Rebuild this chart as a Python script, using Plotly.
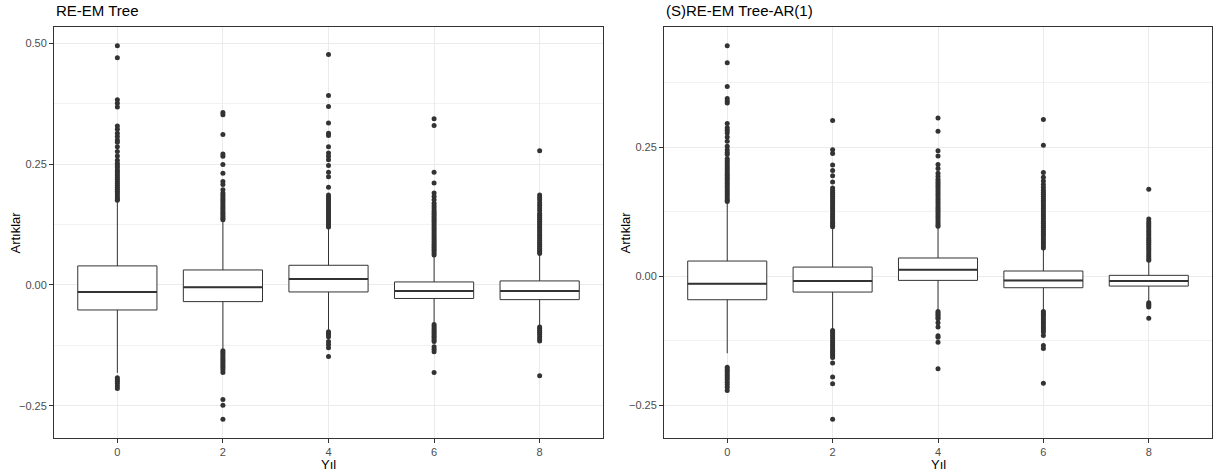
import plotly.graph_objects as go

# ---------------- data ----------------
years = ["0", "2", "4", "6", "8"]

# Panel 1: RE-EM Tree
p1_q1 = [-0.0518, -0.0345, -0.0145, -0.0280, -0.0304]
p1_med = [-0.0145, -0.0050, 0.0124, -0.0124, -0.0124]
p1_q3 = [0.0394, 0.0310, 0.0407, 0.0062, 0.0083]
p1_low = [-0.182, -0.132, -0.093, -0.079, -0.084]
p1_up = [0.1725, 0.131, 0.117, 0.058, 0.062]
p1_out = [
    [0.495, 0.470, 0.383, 0.376, 0.368, 0.329, 0.322, 0.314, 0.307, 0.300, 0.295, 0.286,
     0.276, 0.267, 0.258, 0.252, 0.247, 0.243, 0.238, 0.234, 0.230, 0.226, 0.222, 0.218,
     0.214, 0.210, 0.206, 0.202, 0.198, 0.194, 0.190, 0.186, 0.182, 0.178, 0.175,
     -0.192, -0.196, -0.200, -0.204, -0.209, -0.214],
    [0.357, 0.352, 0.311, 0.271, 0.266, 0.249, 0.231, 0.214, 0.208, 0.197, 0.190, 0.186,
     0.182, 0.178, 0.174, 0.170, 0.166, 0.162, 0.158, 0.154, 0.150, 0.146, 0.142, 0.138,
     0.135,
     -0.136, -0.140, -0.144, -0.148, -0.152, -0.156, -0.160, -0.164, -0.168, -0.172,
     -0.176, -0.181, -0.237, -0.249, -0.278],
    [0.477, 0.392, 0.369, 0.335, 0.314, 0.309, 0.286, 0.273, 0.266, 0.259, 0.247, 0.233,
     0.224, 0.202, 0.186, 0.182, 0.178, 0.174, 0.170, 0.166, 0.162, 0.158, 0.154, 0.150,
     0.146, 0.142, 0.138, 0.134, 0.130, 0.126, 0.122, 0.120,
     -0.097, -0.100, -0.103, -0.107, -0.117, -0.123, -0.130, -0.148],
    [0.344, 0.330, 0.233, 0.211, 0.190, 0.183, 0.176, 0.169, 0.164, 0.159, 0.154, 0.150,
     0.146, 0.142, 0.138, 0.134, 0.130, 0.126, 0.122, 0.118, 0.114, 0.110, 0.106, 0.102,
     0.098, 0.094, 0.090, 0.086, 0.082, 0.078, 0.074, 0.070, 0.066, 0.062,
     -0.082, -0.086, -0.090, -0.094, -0.098, -0.102, -0.106, -0.110, -0.114, -0.117,
     -0.128, -0.133, -0.138, -0.181],
    [0.2775, 0.186, 0.181, 0.176, 0.170, 0.165, 0.159, 0.154, 0.148, 0.144, 0.140, 0.136,
     0.132, 0.128, 0.124, 0.120, 0.116, 0.112, 0.108, 0.104, 0.100, 0.096, 0.092, 0.088,
     0.084, 0.080, 0.076, 0.072, 0.068, 0.065,
     -0.087, -0.090, -0.094, -0.098, -0.102, -0.107, -0.112, -0.116, -0.188],
]

# Panel 2: (S)RE-EM Tree-AR(1)
p2_q1 = [-0.0453, -0.0304, -0.0078, -0.0220, -0.0188]
p2_med = [-0.0142, -0.0090, 0.0130, -0.0078, -0.0090]
p2_q3 = [0.0297, 0.0180, 0.0356, 0.0104, 0.0020]
p2_low = [-0.149, -0.1035, -0.066, -0.066, -0.048]
p2_up = [0.141, 0.0936, 0.095, 0.052, 0.0297]
p2_out = [
    [0.447, 0.414, 0.368, 0.3445, 0.340, 0.336, 0.296, 0.288, 0.283, 0.278, 0.270, 0.262,
     0.252, 0.2455, 0.240, 0.236, 0.228, 0.224, 0.220, 0.216, 0.212, 0.208, 0.204, 0.200,
     0.196, 0.192, 0.188, 0.184, 0.180, 0.176, 0.172, 0.168, 0.164, 0.160, 0.156, 0.152,
     0.148, 0.145,
     -0.176, -0.180, -0.184, -0.188, -0.192, -0.196, -0.200, -0.205, -0.210, -0.215, -0.221],
    [0.302, 0.2455, 0.238, 0.216, 0.205, 0.195, 0.183, 0.171, 0.167, 0.163, 0.159, 0.155,
     0.151, 0.147, 0.143, 0.139, 0.135, 0.131, 0.127, 0.123, 0.119, 0.115, 0.111, 0.107,
     0.103, 0.099, 0.096,
     -0.105, -0.109, -0.113, -0.117, -0.121, -0.125, -0.129, -0.133, -0.137, -0.141,
     -0.145, -0.149, -0.153, -0.157, -0.168, -0.195, -0.208, -0.277],
    [0.307, 0.281, 0.2436, 0.233, 0.217, 0.209, 0.200, 0.194, 0.188, 0.184, 0.180, 0.176,
     0.172, 0.168, 0.164, 0.160, 0.156, 0.152, 0.148, 0.144, 0.140, 0.136, 0.132, 0.128,
     0.124, 0.120, 0.116, 0.112, 0.108, 0.104, 0.100, 0.097,
     -0.068, -0.071, -0.074, -0.077, -0.080, -0.082, -0.090, -0.098, -0.115, -0.118,
     -0.1275, -0.179],
    [0.304, 0.254, 0.2015, 0.192, 0.185, 0.178, 0.172, 0.167, 0.163, 0.159, 0.155, 0.151,
     0.147, 0.143, 0.139, 0.135, 0.131, 0.127, 0.123, 0.119, 0.115, 0.111, 0.107, 0.103,
     0.099, 0.095, 0.091, 0.087, 0.083, 0.079, 0.075, 0.071, 0.067, 0.063, 0.059, 0.055,
     -0.068, -0.072, -0.076, -0.080, -0.084, -0.088, -0.092, -0.096, -0.100, -0.104,
     -0.108, -0.1145, -0.134, -0.140, -0.207],
    [0.169, 0.111, 0.106, 0.102, 0.098, 0.094, 0.090, 0.086, 0.082, 0.078, 0.074, 0.070,
     0.066, 0.062, 0.058, 0.054, 0.050, 0.046, 0.042, 0.038, 0.034, 0.031,
     -0.051, -0.054, -0.057, -0.0596, -0.081],
]

titles = ["RE-EM Tree", "(S)RE-EM Tree-AR(1)"]
x_title = "Yıl"
y_title = "Artıklar"

# ---------------- styling ----------------
W, H = 1218, 475
DARK = "#333333"
GRID = "#EBEBEB"
TICKC = "#4D4D4D"
FONT = "Liberation Sans, Arial, sans-serif"
BOXW = 0.75

panels = [
    dict(q1=p1_q1, med=p1_med, q3=p1_q3, low=p1_low, up=p1_up, out=p1_out,
         dom=[54 / W, 603 / W]),
    dict(q1=p2_q1, med=p2_med, q3=p2_q3, low=p2_low, up=p2_up, out=p2_out,
         dom=[664 / W, 1212 / W]),
]
ydom = [1 - 438 / H, 1 - 27 / H]

fig = go.Figure()
layout = dict(
    width=W, height=H, margin=dict(l=0, r=0, t=0, b=0),
    paper_bgcolor="white", plot_bgcolor="white", showlegend=False,
    font=dict(family=FONT, color=TICKC, size=11),
)
annotations = []
idx = list(range(len(years)))

for k, p in enumerate(panels):
    xa = "x" if k == 0 else "x2"
    ya = "y" if k == 0 else "y2"
    fig.add_trace(go.Box(
        x=idx, q1=p["q1"], median=p["med"], q3=p["q3"],
        lowerfence=p["low"], upperfence=p["up"],
        width=BOXW, whiskerwidth=0, boxpoints=False,
        fillcolor="white", line=dict(color=DARK, width=1),
        xaxis=xa, yaxis=ya, hoverinfo="skip",
    ))
    # thicker median line (ggplot style)
    mx, my = [], []
    for i, m in zip(idx, p["med"]):
        mx += [i - BOXW / 2, i + BOXW / 2, None]
        my += [m, m, None]
    fig.add_trace(go.Scatter(x=mx, y=my, mode="lines",
                             line=dict(color=DARK, width=2),
                             xaxis=xa, yaxis=ya, hoverinfo="skip"))
    ox, oy = [], []
    for i, vals in zip(idx, p["out"]):
        ox += [i] * len(vals)
        oy += vals
    fig.add_trace(go.Scatter(x=ox, y=oy, mode="markers",
                             marker=dict(color=DARK, size=5),
                             xaxis=xa, yaxis=ya, hoverinfo="skip"))

    allv = [v for vals in p["out"] for v in vals] + p["low"] + p["up"]
    lo, hi = min(allv), max(allv)
    pad = (hi - lo) * 0.05
    suffix = "" if k == 0 else "2"
    layout["xaxis" + suffix] = dict(
        domain=p["dom"], anchor=ya, range=[-0.6, len(years) - 0.4],
        tickmode="array", tickvals=idx, ticktext=years,
        showgrid=True, gridcolor=GRID, gridwidth=1, zeroline=False,
        showline=True, mirror=True, linecolor=DARK, linewidth=1,
        ticks="outside", ticklen=4, tickcolor=DARK, tickwidth=1,
        tickfont=dict(size=11, color=TICKC, family=FONT),
    )
    layout["yaxis" + suffix] = dict(
        domain=ydom, anchor=xa, range=[lo - pad, hi + pad],
        tickmode="linear", tick0=0, dtick=0.25, tickformat=".2f",
        showgrid=True, gridcolor=GRID, gridwidth=1, zeroline=False,
        minor=dict(tickmode="linear", tick0=0.125, dtick=0.25, showgrid=True,
                   gridcolor="#F2F2F2", gridwidth=1, ticks=""),
        showline=True, mirror=True, linecolor=DARK, linewidth=1,
        ticks="outside", ticklen=4, tickcolor=DARK, tickwidth=1,
        tickfont=dict(size=11, color=TICKC, family=FONT),
    )
    # panel title
    annotations.append(dict(
        text=titles[k], xref="paper", yref="paper", x=p["dom"][0], y=1 - 21 / H,
        xanchor="left", yanchor="bottom", showarrow=False,
        font=dict(size=15, color="black", family=FONT),
    ))
    # axis titles
    annotations.append(dict(
        text=x_title, xref="paper", yref="paper",
        x=(p["dom"][0] + p["dom"][1]) / 2, y=1 - 464 / H,
        xanchor="center", yanchor="middle", showarrow=False,
        font=dict(size=13, color="black", family=FONT),
    ))
    annotations.append(dict(
        text=y_title, xref="paper", yref="paper",
        x=p["dom"][0] - 39 / W, y=(ydom[0] + ydom[1]) / 2,
        xanchor="center", yanchor="middle", textangle=-90, showarrow=False,
        font=dict(size=13, color="black", family=FONT),
    ))

layout["annotations"] = annotations
fig.update_layout(**layout)
fig.write_html("out.html")
